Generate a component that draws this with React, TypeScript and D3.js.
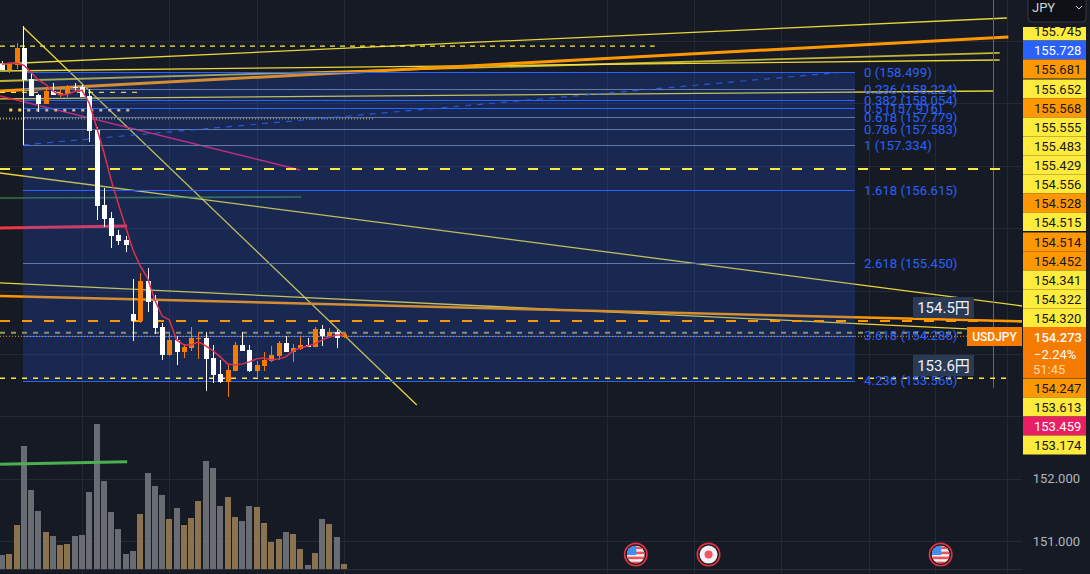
import React from "react";
import * as d3 from "d3";

const W = 1090, H = 574, PANE_R = 1022;

const opens = [158.623,158.527,158.607,158.878,158.383,158.128,157.984,158.192,158.128,158.144,158.264,158.256,158.112,157.569,156.372,156.165,155.894,155.814,154.633,154.521,155.160,154.840,154.425,153.979,154.218,154.026,154.090,154.234,154.250,153.931,153.675,153.548,153.723,154.138,154.058,153.723,153.803,153.883,153.963,154.170,154.026,154.074,154.138,154.106,154.393,154.282,154.346,154.266];
const closes = [158.527,158.623,158.878,158.367,158.112,157.984,158.192,158.128,158.160,158.272,158.248,158.096,157.553,156.356,156.149,155.878,155.798,155.734,154.521,155.160,154.824,154.409,153.979,154.218,154.026,154.106,154.250,154.250,153.915,153.659,153.548,153.739,154.138,154.042,153.723,153.819,153.899,153.979,154.170,154.026,154.090,154.138,154.106,154.393,154.282,154.346,154.250,154.314];
const highs = [158.670,158.623,158.958,158.878,158.495,158.144,158.240,158.319,158.256,158.287,158.319,158.287,158.224,157.617,156.644,156.261,155.973,155.878,155.191,155.287,155.367,154.936,154.489,154.346,154.282,154.154,154.425,154.330,154.346,154.138,153.899,153.835,154.186,154.346,154.138,153.883,154.026,154.122,154.202,154.282,154.154,154.266,154.250,154.425,154.457,154.409,154.378,154.346];
const lows = [158.527,158.479,158.543,158.367,158.112,157.857,157.984,158.128,158.096,158.096,158.192,158.096,157.378,156.133,156.021,155.686,155.734,155.622,154.202,154.489,154.665,154.314,153.899,153.963,153.819,153.931,154.042,153.915,153.404,153.532,153.532,153.308,153.723,154.042,153.707,153.627,153.723,153.867,153.899,154.026,153.867,154.058,154.106,154.106,154.122,154.250,154.090,154.250];
const volumes = [42,45,132,369,237,174,111,99,72,75,99,102,231,435,264,171,120,45,54,165,288,249,222,150,183,132,153,204,324,303,189,216,156,144,189,186,138,81,90,111,105,60,12,48,150,135,96,15];
const maValues = [158.623,158.639,158.639,158.607,158.495,158.367,158.303,158.192,158.128,158.144,158.192,158.208,158.000,157.617,157.218,156.771,156.388,156.021,155.654,155.399,155.207,154.856,154.601,154.537,154.218,154.138,154.138,154.186,154.122,154.042,153.947,153.835,153.819,153.835,153.867,153.915,153.931,153.899,153.915,153.947,154.042,154.090,154.122,154.154,154.218,154.266,154.298,154.298];

const fibRatios = ["0","0.236","0.382","0.5","0.618","0.786","1","1.618","2.618","3.618","4.236"];
const fibPrices = [158.499,158.224,158.054,157.916,157.779,157.583,157.334,156.615,155.450,154.286,153.566];
const fibMuted = [false,true,false,false,true,true,true,false,true,false,false];

const priceTicks = [159,158,157,156,155,154,153,152,151];
const gridBars = [11,23,35,47,83.1,95.1,107,119.1,128.2,138.1];
const axisTicks = [152,151];

const axisLabelText = ["155.745","155.728","155.681","155.652","155.568","155.555","155.483","155.429","154.556","154.528","154.515","154.514","154.452","154.341","154.322","154.320","154.247","153.613","153.459","153.174"];
const axisLabelKind = ["y","b","o","y","o","y","y","y","y","o","y","o","o","y","y","y","o","y","p","y"];
const axisLabelCenter = [31,50,69,89,108,127,146,165,184,203,222,242,261,280,299,318,388,407,426,445];

// [bar1, price1, bar2, price2]
const yellowLines = [
  [-0.27,158.627,138.1,159.362],
  [-0.27,158.355,137.1,158.803],
  [-0.27,158.515,137.1,158.691],
  [-0.27,158.068,136.2,158.195],
  [2.886,159.218,57,153.179],
  [-0.27,156.885,140.2,154.760],
  [-0.27,155.128,132.6,154.393],
];
const orangeLines = [
  [-0.27,158.195,138.3,159.058,3],
  [-0.27,154.920,140.2,154.513,2.5],
];

const y = d3.scaleLinear().domain([151, 158.499]).range([541.3, 72]);
const x = d3.scaleLinear().domain([0, 47]).range([2, 344]);
const volY = d3.scaleLinear().domain([0, 435]).range([569, 424]);
const ORANGE = "#f57c00", UP = "#f57c00", YEL = "#ffeb3b", FONT = "Roboto, sans-serif";
const boxFill: Record<string, string> = { y: "#ffeb3b", b: "#2962ff", o: "#ff9800", p: "#e91e63" };

const maPath = d3.line<number>().x((_, i) => x(i)).y(d => y(d)).curve(d3.curveLinear)(maValues) as string;

function Seg({ l, stroke, w = 1, dash, op = 1 }: any) {
  return <line x1={x(l[0])} y1={y(l[1])} x2={x(l[2])} y2={y(l[3])} stroke={stroke} strokeWidth={w} strokeDasharray={dash} opacity={op} />;
}

function Flag({ bar, id }: { bar: number; id: string }) {
  const cx = x(bar), cy = 554.6;
  return (
    <g>
      <circle cx={cx} cy={cy} r={11.2} fill="#131722" stroke="#e5333f" strokeWidth={1.6} />
      <clipPath id={id}><circle cx={cx} cy={cy} r={9} /></clipPath>
      <g clipPath={`url(#${id})`}>
        <rect x={cx - 9} y={cy - 9} width={18} height={18} fill="#f5f5f5" />
        {[-8, -3, 2, 7].map(o => <rect key={o} x={cx - 9} y={cy + o} width={18} height={2.6} fill="#f0525a" />)}
        <rect x={cx - 9} y={cy - 9} width={9.5} height={9.5} fill="#3f8ef0" />
      </g>
    </g>
  );
}

export default function App() {
  React.useEffect(() => { document.body.style.margin = "0"; document.body.style.overflow = "hidden"; }, []);
  const fx0 = x(2.886), fx1 = 855;
  return (
    <svg width={W} height={H} style={{ display: "block", fontFamily: FONT }}>
      <defs>
        <clipPath id="pane"><rect x={0} y={0} width={PANE_R} height={569} /></clipPath>
        <clipPath id="topBox"><rect x={1023} y={27} width={63} height={14} /></clipPath>
      </defs>
      <rect width={W} height={H} fill="#161a25" />
      {priceTicks.map(t => <line key={t} x1={0} x2={PANE_R} y1={Math.round(y(t)) + 0.5} y2={Math.round(y(t)) + 0.5} stroke="#252935" />)}
      {gridBars.map(b => <line key={b} x1={Math.round(x(b)) + 0.5} x2={Math.round(x(b)) + 0.5} y1={0} y2={574} stroke="#252935" />)}
      <line x1={0} x2={PANE_R} y1={569.5} y2={569.5} stroke="#2a2e39" />

      {volumes.map((v, i) => {
        const up = closes[i] > opens[i];
        return <rect key={i} x={Math.round(x(i)) - 3} y={volY(v)} width={6} height={569 - volY(v)} fill={up ? "#8c7350" : "#6a6c74"} />;
      })}

      <g clipPath="url(#pane)">
        {yellowLines.map((l, i) => <Seg key={i} l={l} stroke={YEL} w={i === 1 ? 1.8 : 1.3} op={i === 1 ? 0.75 : 0.9} />)}
        {orangeLines.map((l, i) => <Seg key={i} l={l} stroke="#ff9800" w={l[4]} />)}
        <Seg l={[-0.27, 158.116, 41, 156.933]} stroke="#f0206a" w={1.4} op={0.95} />
        <Seg l={[-0.27, 156.486, 41.1, 156.502]} stroke="#4caf50" w={1.6} op={0.6} />
        <Seg l={[-0.27, 156.007, 17.2, 156.038]} stroke="#f23645" w={3} />
        <Seg l={[-0.27, 158.914, 89.7, 158.914]} stroke={YEL} w={1.2} dash="5 5" />
        <Seg l={[-0.27, 158.175, 18.7, 158.175]} stroke={YEL} w={1.2} dash="5 6" />
        <Seg l={[1, 157.892, 18, 157.892]} stroke="#f5c563" w={3} dash="3 6" />
        <Seg l={[-0.27, 157.754, 51, 157.754]} stroke="#a5a24a" w={2} dash="1 2" />
        <Seg l={[-0.27, 154.334, 132, 154.334]} stroke="#9a9a66" w={2} dash="5 6" />
      </g>

      <rect x={fx0} y={y(158.499)} width={fx1 - fx0} height={y(153.566) - y(158.499)} fill="#2962ff" opacity={0.2} />
      {fibPrices.map((p, i) => (
        <line key={p} x1={fx0} x2={fx1} y1={Math.round(y(p)) + 0.5} y2={Math.round(y(p)) + 0.5} stroke={fibMuted[i] ? "#6278a8" : "#2962ff"} />
      ))}
      <Seg l={[2.886, 157.334, 115.8, 158.499]} stroke="#2962ff" w={1.2} dash="6 6" op={0.8} />
      <line x1={Math.round(fx0) + 0.5} x2={Math.round(fx0) + 0.5} y1={y(159.234)} y2={y(157.334)} stroke="#ffffff" />
      <line x1={993.5} x2={993.5} y1={y(159.649)} y2={y(153.45)} stroke="#c23a66" />
      <g clipPath="url(#pane)">
        <Seg l={[-0.27, 156.949, 138.8, 156.949]} stroke={YEL} w={2} dash="10 12" />
        <Seg l={[-0.27, 154.521, 140.2, 154.521]} stroke="#ff9800" w={2} dash="10 12" />
        <Seg l={[-0.27, 153.605, 138.2, 153.605]} stroke={YEL} w={1.3} dash="5 6" />
        <Seg l={[-0.27, 154.276, 132.6, 154.276]} stroke="#ff9800" w={1} dash="1 2" />
      </g>

      <g shapeRendering="crispEdges">
        {opens.map((o, i) => {
          const c = closes[i], up = c > o, col = up ? UP : "#ffffff", cx = Math.round(x(i));
          const top = Math.round(y(Math.max(o, c))), bot = Math.round(y(Math.min(o, c)));
          return (
            <g key={i}>
              <rect x={cx} y={y(highs[i])} width={1} height={y(lows[i]) - y(highs[i])} fill={col} />
              <rect x={cx - 2} y={top} width={5} height={Math.max(1, bot - top)} fill={col} />
            </g>
          );
        })}
      </g>
      <path d={maPath} fill="none" stroke="#e0304e" strokeWidth={1.5} />
      <Seg l={[-0.27, 152.231, 17.2, 152.273]} stroke="#4caf50" w={3} />

      {fibRatios.map((r, i) => (
        <text key={r} x={864} y={y(fibPrices[i])} dy="0.36em" fontSize={13.2} fill="#2962ff">{`${r} (${fibPrices[i].toFixed(3)})`}</text>
      ))}

      <Flag bar={87.1} id="f1" />
      <g>
        <circle cx={x(97.1)} cy={554.6} r={11.2} fill="#131722" stroke="#e5333f" strokeWidth={1.6} />
        <circle cx={x(97.1)} cy={554.6} r={9} fill="#f0f2f5" />
        <circle cx={x(97.1)} cy={554.6} r={4} fill="#f7525f" />
      </g>
      <Flag bar={129} id="f2" />

      <rect x={913} y={297} width={61} height={21} fill="#2a3a55" />
      <text x={943.5} y={307.5} dy="0.36em" textAnchor="middle" fontSize={15} fill="#f0f3fa" style={{ fontFamily: "Roboto, 'Noto Sans CJK JP', sans-serif" }}>154.5円</text>
      <rect x={913} y={355} width={61} height={21} fill="#2a3a55" />
      <text x={943.5} y={365.5} dy="0.36em" textAnchor="middle" fontSize={15} fill="#f0f3fa" style={{ fontFamily: "Roboto, 'Noto Sans CJK JP', sans-serif" }}>153.6円</text>

      <rect x={967} y={327} width={55} height={19} fill={ORANGE} />
      <text x={994.5} y={336.5} dy="0.36em" textAnchor="middle" fontSize={12} fontWeight={500} fill="#ffffff">USDJPY</text>

      {axisLabelText.map((t, i) => {
        const k = axisLabelKind[i], cy = axisLabelCenter[i];
        return (
          <g key={t} clipPath={i === 0 ? "url(#topBox)" : undefined}>
            <rect x={1023} y={cy - 9.5} width={63} height={19} fill={boxFill[k]} />
            <text x={1034} y={cy} dy="0.36em" fontSize={13} fill={k === "b" || k === "p" ? "#ffffff" : "#131722"}>{t}</text>
          </g>
        );
      })}
      <line x1={1023} x2={1086} y1={231.5} y2={231.5} stroke="#131722" />
      <rect x={1023} y={327} width={63} height={51} fill={ORANGE} />
      <text x={1034} y={337} dy="0.36em" fontSize={13} fontWeight={500} fill="#ffffff">154.273</text>
      <text x={1034} y={354} dy="0.36em" fontSize={13} fill="#ffffff">−2.24%</text>
      <text x={1033} y={369} dy="0.36em" fontSize={13} fill="#ffd9b0">51:45</text>

      {axisTicks.map(t => (
        <text key={t} x={1080} y={y(t)} dy="0.36em" textAnchor="end" fontSize={13} fill="#b2b5be">{t.toFixed(3)}</text>
      ))}

      <rect x={1028} y={-6} width={58} height={28} rx={4} fill="#0f1116" stroke="#363a45" />
      <text x={1032} y={7} dy="0.36em" fontSize={13} fill="#d1d4dc">JPY</text>
      <path d="M1076 6 l3 3 l3 -3" fill="none" stroke="#d1d4dc" strokeWidth={1} />
    </svg>
  );
}
